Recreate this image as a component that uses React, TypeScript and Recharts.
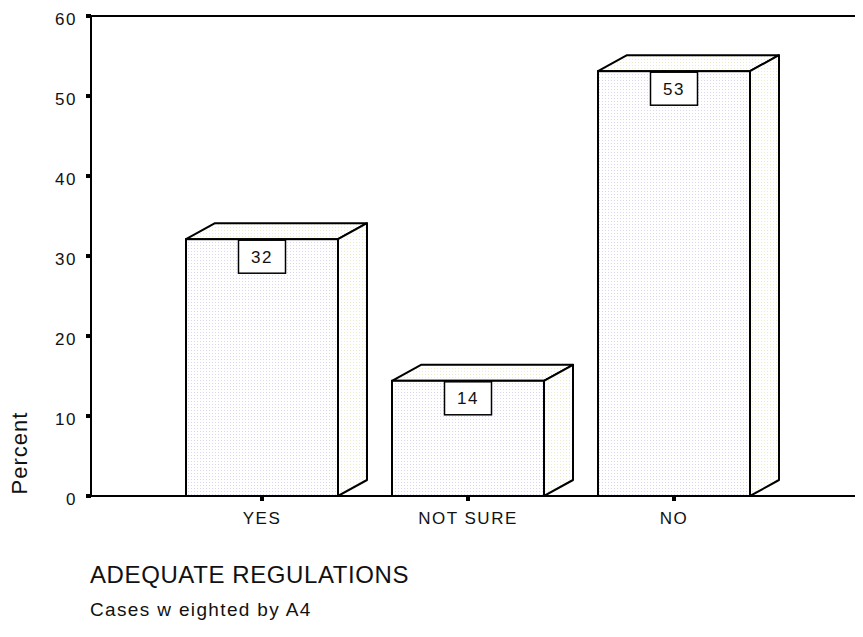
import React from 'react';
import { BarChart, Bar, XAxis, YAxis, ReferenceLine } from 'recharts';

const categories = ['YES', 'NOT SURE', 'NO'];
const percents = [32.1, 14.4, 53.1];
const valueLabels = ['32', '14', '53'];
const yTicks = [0, 10, 20, 30, 40, 50, 60];

const data = categories.map((c, i) => ({ name: c, value: percents[i], label: valueLabels[i] }));

const FONT = '"Liberation Sans", Arial, Helvetica, sans-serif';

const Bar3D = (props: any) => {
  const { x, y, width, height, index } = props;
  const dx = 29;
  const dy = 16;
  const b = y + height;
  const r = x + width;
  const idF = `frontDots${index}`;
  const idS = `sideDots${index}`;
  const cx = x + width / 2;
  const lab = data[index].label;
  return (
    <g>
      <defs>
        <pattern id={idF} width="3" height="3" patternUnits="userSpaceOnUse">
          <rect width="3" height="3" fill="#ffffff" />
          <rect width="1" height="1" fill="#d8d8f2" />
        </pattern>
        <pattern id={idS} width="3" height="3" patternUnits="userSpaceOnUse">
          <rect width="3" height="3" fill="#ffffff" />
          <rect width="1" height="1" fill="#ececcc" />
        </pattern>
      </defs>
      <polygon
        points={`${x},${y} ${x + dx},${y - dy} ${r + dx},${y - dy} ${r},${y}`}
        fill={`url(#${idS})`}
        stroke="#000"
        strokeWidth={2}
        strokeLinejoin="round"
      />
      <polygon
        points={`${r},${y} ${r + dx},${y - dy} ${r + dx},${b - dy} ${r},${b}`}
        fill={`url(#${idS})`}
        stroke="#000"
        strokeWidth={2}
        strokeLinejoin="round"
      />
      <rect x={x} y={y} width={width} height={height} fill={`url(#${idF})`} stroke="#000" strokeWidth={2} />
      <rect x={cx - 23.5} y={y + 1} width={47} height={33} fill="#fff" stroke="#000" strokeWidth={1.5} />
      <text
        x={cx}
        y={y + 18}
        textAnchor="middle"
        dominantBaseline="central"
        fontFamily={FONT}
        fontSize={17}
        letterSpacing={1.5}
        fill="#111"
      >
        {lab}
      </text>
    </g>
  );
};

export default function App() {
  return (
    <div style={{ position: 'relative', width: 855, height: 629, fontFamily: FONT, background: '#fff' }}>
      <BarChart
        width={855}
        height={629}
        data={data}
        margin={{ top: 8, right: 0, left: 0, bottom: 0 }}
        barSize={152}
      >
        <XAxis
          dataKey="name"
          height={141}
          padding={{ left: 68, right: 86 }}
          axisLine={{ stroke: '#000', strokeWidth: 2 }}
          tickLine={{ stroke: '#000', strokeWidth: 4 }}
          tickSize={5}
          tickMargin={11}
          tick={{ fill: '#111', fontSize: 17, fontFamily: FONT, letterSpacing: 1.5 }}
          interval={0}
        />
        <YAxis
          width={83}
          domain={[0, 60]}
          ticks={yTicks}
          interval={0}
          allowDataOverflow
          axisLine={{ stroke: '#000', strokeWidth: 2 }}
          tickLine={{ stroke: '#000', strokeWidth: 4 }}
          tickSize={5}
          tickMargin={9}
          tick={{ fill: '#111', fontSize: 17, fontFamily: FONT, letterSpacing: 1.5, dy: 3 }}
        />
        <ReferenceLine y={60} stroke="#000" strokeWidth={2} ifOverflow="extendDomain" />
        <Bar dataKey="value" isAnimationActive={false} shape={Bar3D} />
      </BarChart>
      <div
        style={{
          position: 'absolute',
          left: 19.5 - 8,
          top: 453 - 8,
          transform: 'translate(-50%, -50%) rotate(-90deg)',
          fontSize: 22,
          letterSpacing: 1,
          color: '#111',
          whiteSpace: 'nowrap',
          lineHeight: 1,
        }}
      >
        Percent
      </div>
      <div
        style={{
          position: 'absolute',
          left: 90 - 8,
          top: 585 - 8 - 22,
          fontSize: 24,
          letterSpacing: 0.6,
          color: '#111',
          whiteSpace: 'pre',
          lineHeight: 1,
        }}
      >
        ADEQUATE REGULATIONS
      </div>
      <div
        style={{
          position: 'absolute',
          left: 90 - 8,
          top: 617 - 8 - 17,
          fontSize: 19,
          letterSpacing: 1.35,
          color: '#111',
          whiteSpace: 'pre',
          lineHeight: 1,
        }}
      >
        Cases w eighted by A4
      </div>
    </div>
  );
}
